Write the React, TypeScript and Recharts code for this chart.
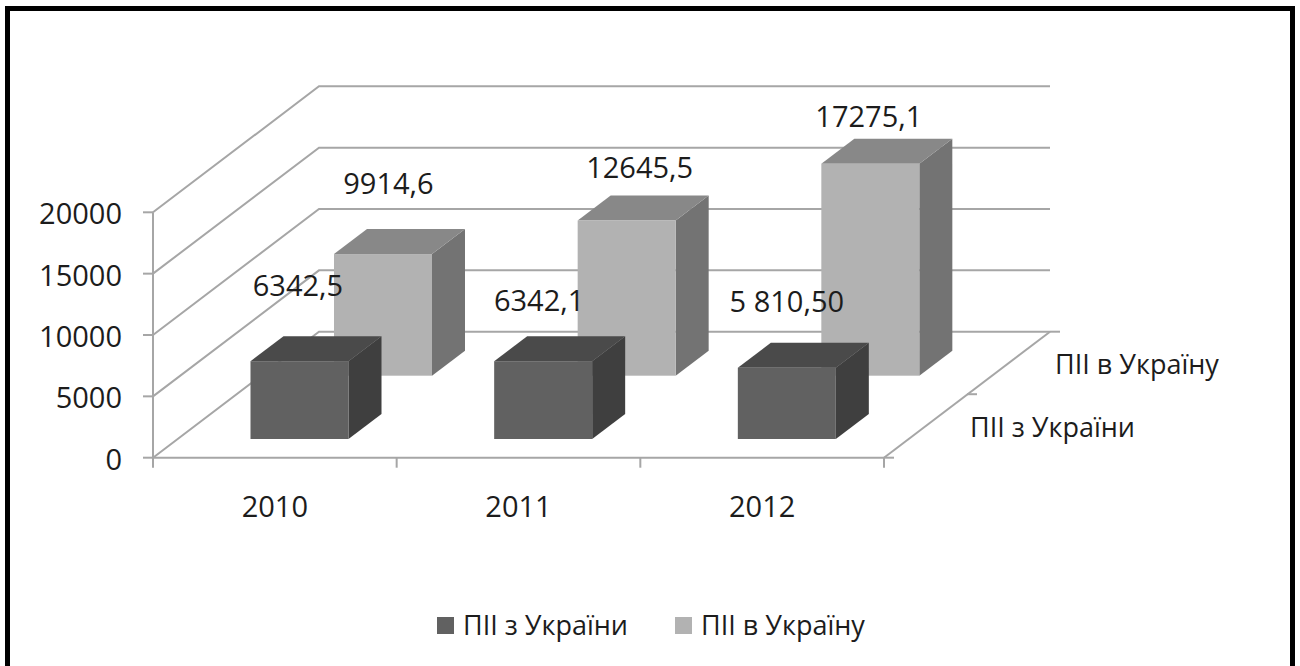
import {
  Bar,
  BarChart,
  CartesianGrid,
  LabelList,
  Legend,
  XAxis,
  YAxis,
} from 'recharts';

const years = ['2010', '2011', '2012'];
const outflow = [6342.5, 6342.1, 5810.5];
const inflow = [9914.6, 12645.5, 17275.1];
const outflowLabels = ['6342,5', '6342,1', '5 810,50'];
const inflowLabels = ['9914,6', '12645,5', '17275,1'];
const yTicks = [0, 5000, 10000, 15000, 20000];

const OUT_NAME = 'ПІІ з України';
const IN_NAME = 'ПІІ в Україну';

const rows = years.map((year, i) => ({
  year,
  outflow: outflow[i],
  inflow: inflow[i],
  outLabel: outflowLabels[i],
  inLabel: inflowLabels[i],
}));

// layout of the fake 3d box
const WIDTH = 1300;
const HEIGHT = 666;
const PLOT_LEFT = 153;
const PLOT_RIGHT = 884;
const PLOT_TOP = 212.3;
const PLOT_BOTTOM = 457.7;
const BAND = (PLOT_RIGHT - PLOT_LEFT) / years.length;
const WALL_DX = 166;
const WALL_DY = -126;
const BAR_WIDTH = 98;
const BAR_DX = 33;
const BAR_DY = -25;
const XAXIS_HEIGHT = 60;
const LEGEND_HEIGHT = 40;

const FONT = '"Open Sans", sans-serif';
const NUM_SIZE = 29;
const NAME_SIZE = 27;
const TEXT = '#1c1c1c';
const LINE = '#a6a6a6';
const LINE_W = 2;

const FRONT = { dx: 24.5, dy: -18.7, face: '#616161', top: '#4a4a4a', side: '#3f3f3f' };
const BACK = { dx: 108, dy: -82, face: '#b2b2b2', top: '#888888', side: '#737373' };

// hand placed data labels, same as in the source chart
const frontNudge = [
  [-1.5, -65],
  [-4, -50],
  [0, -56],
];
const backNudge = [
  [5.5, -60],
  [13, -43],
  [-1.5, -37],
];

function makeBox(look: typeof FRONT) {
  return function Box(props: any) {
    const { x, y, width, height } = props;
    const l = x + look.dx;
    const t = y + look.dy;
    const r = l + width;
    const b = t + height;
    return (
      <g>
        <polygon
          points={`${r},${t} ${r + BAR_DX},${t + BAR_DY} ${r + BAR_DX},${b + BAR_DY} ${r},${b}`}
          fill={look.side}
        />
        <polygon
          points={`${l},${t} ${l + BAR_DX},${t + BAR_DY} ${r + BAR_DX},${t + BAR_DY} ${r},${t}`}
          fill={look.top}
        />
        <rect x={l} y={t} width={width} height={height} fill={look.face} />
      </g>
    );
  };
}

function makeLabel(look: typeof FRONT, nudge: number[][]) {
  return function BoxLabel(props: any) {
    const { x, y, width, index, value } = props;
    const [nx, ny] = nudge[index];
    return (
      <text
        x={x + look.dx + width / 2 + nx}
        y={y + look.dy + ny}
        textAnchor="middle"
        fontFamily={FONT}
        fontSize={NUM_SIZE}
        fill={TEXT}
      >
        {value}
      </text>
    );
  };
}

function WallLine(props: any) {
  const { x1, x2, y1 } = props;
  const bx = x1 + WALL_DX;
  const by = y1 + WALL_DY;
  return (
    <polyline
      points={`${x1},${y1} ${bx},${by} ${x2 + WALL_DX},${by}`}
      fill="none"
      stroke={LINE}
      strokeWidth={LINE_W}
    />
  );
}

function YTick(props: any) {
  const { y, payload } = props;
  return (
    <g>
      <line x1={PLOT_LEFT - 10} x2={PLOT_LEFT} y1={y} y2={y} stroke={LINE} strokeWidth={LINE_W} />
      <text x={122} y={y + 12} textAnchor="end" fontFamily={FONT} fontSize={NUM_SIZE} fill={TEXT}>
        {payload.value}
      </text>
    </g>
  );
}

function XTick(props: any) {
  const { x, payload, index } = props;
  const left = x - BAND / 2;
  const right = x + BAND / 2;
  return (
    <g>
      <line x1={left} x2={left} y1={PLOT_BOTTOM} y2={PLOT_BOTTOM + 10} stroke={LINE} strokeWidth={LINE_W} />
      {index === years.length - 1 && (
        <line x1={right} x2={right} y1={PLOT_BOTTOM} y2={PLOT_BOTTOM + 10} stroke={LINE} strokeWidth={LINE_W} />
      )}
      <text x={x} y={517} textAnchor="middle" fontFamily={FONT} fontSize={NUM_SIZE} fill={TEXT}>
        {payload.value}
      </text>
    </g>
  );
}

function DepthAxis() {
  const x0 = PLOT_RIGHT;
  const y0 = PLOT_BOTTOM;
  return (
    <g>
      <line x1={x0} y1={y0} x2={x0 + WALL_DX} y2={y0 + WALL_DY} stroke={LINE} strokeWidth={LINE_W} />
      <line x1={x0} y1={y0} x2={x0 + 10} y2={y0} stroke={LINE} strokeWidth={LINE_W} />
      <line x1={x0 + WALL_DX} y1={y0 + WALL_DY} x2={x0 + WALL_DX + 10} y2={y0 + WALL_DY} stroke={LINE} strokeWidth={LINE_W} />
      <line x1={x0 + 83} y1={y0 - 63.5} x2={x0 + 93} y2={y0 - 63.5} stroke={LINE} strokeWidth={LINE_W} />
      <text x={970} y={437} fontFamily={FONT} fontSize={NAME_SIZE} fill={TEXT}>
        {OUT_NAME}
      </text>
      <text x={1055} y={374} fontFamily={FONT} fontSize={NAME_SIZE} fill={TEXT}>
        {IN_NAME}
      </text>
    </g>
  );
}

function LegendRow() {
  const items = [
    { name: OUT_NAME, color: FRONT.face, left: 437 },
    { name: IN_NAME, color: BACK.face, left: 675 },
  ];
  return (
    <div style={{ position: 'relative', height: LEGEND_HEIGHT, fontFamily: FONT, fontSize: NAME_SIZE, color: TEXT }}>
      {items.map((item) => (
        <div
          key={item.name}
          style={{ position: 'absolute', left: item.left, top: 0, display: 'flex', alignItems: 'center', whiteSpace: 'nowrap', lineHeight: `${LEGEND_HEIGHT}px` }}
        >
          <span style={{ width: 17, height: 17, background: item.color, marginRight: 9 }} />
          {item.name}
        </div>
      ))}
    </div>
  );
}

export default function App() {
  return (
    <div style={{ position: 'absolute', left: 0, top: 0, width: WIDTH, height: HEIGHT, background: '#fff', overflow: 'hidden' }}>
      {/* the frame runs off the bottom of the picture */}
      <div
        style={{
          position: 'absolute',
          left: 5,
          top: 6,
          width: 1280,
          height: 700,
          border: '5px solid #000',
        }}
      />
      <BarChart
        width={WIDTH}
        height={HEIGHT}
        data={rows}
        margin={{
          left: 0,
          right: WIDTH - PLOT_RIGHT,
          top: PLOT_TOP,
          bottom: HEIGHT - PLOT_BOTTOM - XAXIS_HEIGHT - LEGEND_HEIGHT,
        }}
        barSize={BAR_WIDTH}
        barGap={-BAR_WIDTH}
      >
        <CartesianGrid vertical={false} horizontal={(p: any) => <WallLine {...p} key={p.key} />} />
        <XAxis
          dataKey="year"
          height={XAXIS_HEIGHT}
          interval={0}
          tickLine={false}
          axisLine={{ stroke: LINE, strokeWidth: LINE_W }}
          tick={<XTick />}
        />
        <YAxis
          width={PLOT_LEFT}
          domain={[0, 20000]}
          ticks={yTicks}
          interval={0}
          tickLine={false}
          axisLine={{ stroke: LINE, strokeWidth: LINE_W }}
          tick={<YTick />}
        />
        <Bar dataKey="inflow" name={IN_NAME} fill={BACK.face} shape={makeBox(BACK)} isAnimationActive={false}>
          <LabelList dataKey="inLabel" content={makeLabel(BACK, backNudge)} />
        </Bar>
        <Bar dataKey="outflow" name={OUT_NAME} fill={FRONT.face} shape={makeBox(FRONT)} isAnimationActive={false}>
          <LabelList dataKey="outLabel" content={makeLabel(FRONT, frontNudge)} />
        </Bar>
        <Legend
          content={<LegendRow />}
          wrapperStyle={{ position: 'absolute', left: 0, top: 605, width: WIDTH }}
        />
        <DepthAxis />
      </BarChart>
    </div>
  );
}
